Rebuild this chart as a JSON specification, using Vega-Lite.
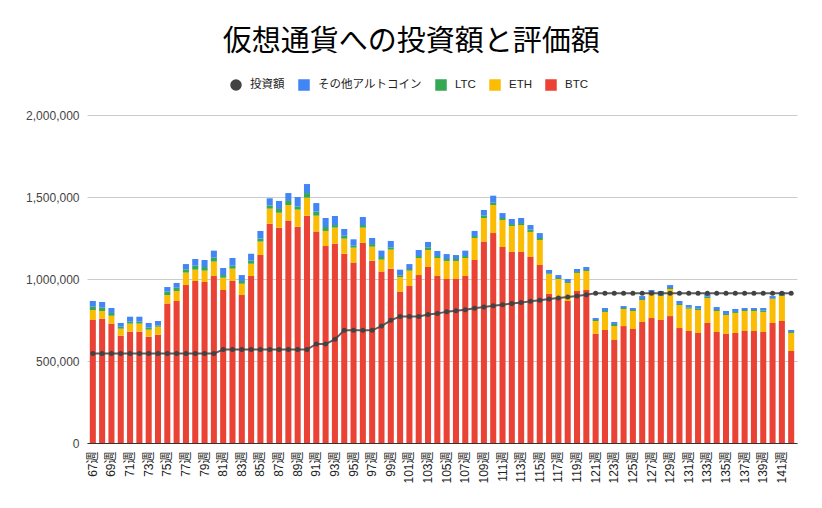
{
  "$schema": "https://vega.github.io/schema/vega-lite/v6.json",
  "width": 710,
  "height": 328,
  "autosize": "none",
  "padding": {"left": 87, "top": 115, "right": 25, "bottom": 65},
  "background": "white",
  "config": {
    "font": "Liberation Sans, Noto Sans CJK JP, sans-serif",
    "view": {"stroke": null}
  },
  "title": {
    "text": "仮想通貨への投資額と評価額",
    "font": "Noto Sans CJK JP",
    "fontSize": 29,
    "fontWeight": "normal",
    "color": "#000000",
    "anchor": "middle",
    "frame": "bounds",
    "offset": 22
  },
  "data": {
    "values": [
      {"w": "67週", "BTC": 750000, "ETH": 61000, "LTC": 20000, "その他アルトコイン": 35000, "inv": 545000},
      {"w": "68週", "BTC": 758000, "ETH": 47000, "LTC": 20000, "その他アルトコイン": 35000, "inv": 545000},
      {"w": "69週", "BTC": 728000, "ETH": 48000, "LTC": 17000, "その他アルトコイン": 30000, "inv": 545000},
      {"w": "70週", "BTC": 654000, "ETH": 43000, "LTC": 12000, "その他アルトコイン": 23000, "inv": 545000},
      {"w": "71週", "BTC": 679000, "ETH": 49000, "LTC": 12000, "その他アルトコイン": 30000, "inv": 545000},
      {"w": "72週", "BTC": 679000, "ETH": 49000, "LTC": 12000, "その他アルトコイン": 30000, "inv": 545000},
      {"w": "73週", "BTC": 648000, "ETH": 43000, "LTC": 12000, "その他アルトコイン": 29000, "inv": 545000},
      {"w": "74週", "BTC": 660000, "ETH": 49000, "LTC": 8000, "その他アルトコイン": 27000, "inv": 545000},
      {"w": "75週", "BTC": 850000, "ETH": 52000, "LTC": 21000, "その他アルトコイン": 28000, "inv": 545000},
      {"w": "76週", "BTC": 866000, "ETH": 61000, "LTC": 20000, "その他アルトコイン": 29000, "inv": 545000},
      {"w": "77週", "BTC": 963000, "ETH": 76000, "LTC": 20000, "その他アルトコイン": 32000, "inv": 545000},
      {"w": "78週", "BTC": 988000, "ETH": 69000, "LTC": 24000, "その他アルトコイン": 41000, "inv": 545000},
      {"w": "79週", "BTC": 982000, "ETH": 69000, "LTC": 22000, "その他アルトコイン": 43000, "inv": 545000},
      {"w": "80週", "BTC": 1018000, "ETH": 88000, "LTC": 24000, "その他アルトコイン": 43000, "inv": 545000},
      {"w": "81週", "BTC": 933000, "ETH": 75000, "LTC": 16000, "その他アルトコイン": 43000, "inv": 570000},
      {"w": "82週", "BTC": 988000, "ETH": 75000, "LTC": 18000, "その他アルトコイン": 47000, "inv": 570000},
      {"w": "83週", "BTC": 902000, "ETH": 69000, "LTC": 17000, "その他アルトコイン": 36000, "inv": 570000},
      {"w": "84週", "BTC": 1018000, "ETH": 75000, "LTC": 19000, "その他アルトコイン": 42000, "inv": 570000},
      {"w": "85週", "BTC": 1146000, "ETH": 82000, "LTC": 18000, "その他アルトコイン": 47000, "inv": 570000},
      {"w": "86週", "BTC": 1337000, "ETH": 92000, "LTC": 20000, "その他アルトコイン": 43000, "inv": 570000},
      {"w": "87週", "BTC": 1313000, "ETH": 91000, "LTC": 23000, "その他アルトコイン": 49000, "inv": 570000},
      {"w": "88週", "BTC": 1356000, "ETH": 95000, "LTC": 25000, "その他アルトコイン": 48000, "inv": 570000},
      {"w": "89週", "BTC": 1319000, "ETH": 104000, "LTC": 18000, "その他アルトコイン": 59000, "inv": 570000},
      {"w": "90週", "BTC": 1386000, "ETH": 110000, "LTC": 28000, "その他アルトコイン": 55000, "inv": 570000},
      {"w": "91週", "BTC": 1289000, "ETH": 97000, "LTC": 25000, "その他アルトコイン": 52000, "inv": 604000},
      {"w": "92週", "BTC": 1201000, "ETH": 92000, "LTC": 24000, "その他アルトコイン": 55000, "inv": 604000},
      {"w": "93週", "BTC": 1215000, "ETH": 98000, "LTC": 16000, "その他アルトコイン": 55000, "inv": 632000},
      {"w": "94週", "BTC": 1154000, "ETH": 92000, "LTC": 18000, "その他アルトコイン": 41000, "inv": 687000},
      {"w": "95週", "BTC": 1100000, "ETH": 91000, "LTC": 12000, "その他アルトコイン": 39000, "inv": 687000},
      {"w": "96週", "BTC": 1221000, "ETH": 92000, "LTC": 16000, "その他アルトコイン": 49000, "inv": 687000},
      {"w": "97週", "BTC": 1112000, "ETH": 85000, "LTC": 16000, "その他アルトコイン": 37000, "inv": 687000},
      {"w": "98週", "BTC": 1045000, "ETH": 73000, "LTC": 16000, "その他アルトコイン": 39000, "inv": 713000},
      {"w": "99週", "BTC": 1063000, "ETH": 116000, "LTC": 14000, "その他アルトコイン": 39000, "inv": 748000},
      {"w": "100週", "BTC": 921000, "ETH": 91000, "LTC": 10000, "その他アルトコイン": 35000, "inv": 772000},
      {"w": "101週", "BTC": 957000, "ETH": 94000, "LTC": 10000, "その他アルトコイン": 30000, "inv": 772000},
      {"w": "102週", "BTC": 1024000, "ETH": 104000, "LTC": 12000, "その他アルトコイン": 37000, "inv": 772000},
      {"w": "103週", "BTC": 1073000, "ETH": 104000, "LTC": 16000, "その他アルトコイン": 33000, "inv": 783000},
      {"w": "104週", "BTC": 1018000, "ETH": 110000, "LTC": 12000, "その他アルトコイン": 31000, "inv": 789000},
      {"w": "105週", "BTC": 1000000, "ETH": 110000, "LTC": 12000, "その他アルトコイン": 30000, "inv": 801000},
      {"w": "106週", "BTC": 1000000, "ETH": 110000, "LTC": 12000, "その他アルトコイン": 24000, "inv": 807000},
      {"w": "107週", "BTC": 1018000, "ETH": 110000, "LTC": 12000, "その他アルトコイン": 33000, "inv": 813000},
      {"w": "108週", "BTC": 1116000, "ETH": 134000, "LTC": 12000, "その他アルトコイン": 31000, "inv": 821000},
      {"w": "109週", "BTC": 1228000, "ETH": 144000, "LTC": 16000, "その他アルトコイン": 33000, "inv": 829000},
      {"w": "110週", "BTC": 1280000, "ETH": 171000, "LTC": 14000, "その他アルトコイン": 43000, "inv": 837000},
      {"w": "111週", "BTC": 1195000, "ETH": 165000, "LTC": 12000, "その他アルトコイン": 30000, "inv": 843000},
      {"w": "112週", "BTC": 1165000, "ETH": 158000, "LTC": 12000, "その他アルトコイン": 31000, "inv": 850000},
      {"w": "113週", "BTC": 1165000, "ETH": 164000, "LTC": 12000, "その他アルトコイン": 31000, "inv": 856000},
      {"w": "114週", "BTC": 1134000, "ETH": 153000, "LTC": 14000, "その他アルトコイン": 28000, "inv": 864000},
      {"w": "115週", "BTC": 1085000, "ETH": 153000, "LTC": 12000, "その他アルトコイン": 30000, "inv": 870000},
      {"w": "116週", "BTC": 909000, "ETH": 120000, "LTC": 6000, "その他アルトコイン": 20000, "inv": 878000},
      {"w": "117週", "BTC": 888000, "ETH": 112000, "LTC": 6000, "その他アルトコイン": 18000, "inv": 884000},
      {"w": "118週", "BTC": 866000, "ETH": 110000, "LTC": 6000, "その他アルトコイン": 18000, "inv": 890000},
      {"w": "119週", "BTC": 927000, "ETH": 110000, "LTC": 6000, "その他アルトコイン": 18000, "inv": 896000},
      {"w": "120週", "BTC": 933000, "ETH": 116000, "LTC": 6000, "その他アルトコイン": 18000, "inv": 904000},
      {"w": "121週", "BTC": 665000, "ETH": 79000, "LTC": 6000, "その他アルトコイン": 12000, "inv": 913000},
      {"w": "122週", "BTC": 689000, "ETH": 110000, "LTC": 6000, "その他アルトコイン": 18000, "inv": 913000},
      {"w": "123週", "BTC": 628000, "ETH": 85000, "LTC": 13000, "その他アルトコイン": 12000, "inv": 913000},
      {"w": "124週", "BTC": 713000, "ETH": 104000, "LTC": 6000, "その他アルトコイン": 12000, "inv": 913000},
      {"w": "125週", "BTC": 695000, "ETH": 110000, "LTC": 6000, "その他アルトコイン": 12000, "inv": 913000},
      {"w": "126週", "BTC": 738000, "ETH": 134000, "LTC": 6000, "その他アルトコイン": 18000, "inv": 913000},
      {"w": "127週", "BTC": 762000, "ETH": 147000, "LTC": 6000, "その他アルトコイン": 18000, "inv": 913000},
      {"w": "128週", "BTC": 750000, "ETH": 146000, "LTC": 6000, "その他アルトコイン": 25000, "inv": 913000},
      {"w": "129週", "BTC": 774000, "ETH": 165000, "LTC": 6000, "その他アルトコイン": 18000, "inv": 913000},
      {"w": "130週", "BTC": 701000, "ETH": 140000, "LTC": 7000, "その他アルトコイン": 18000, "inv": 913000},
      {"w": "131週", "BTC": 683000, "ETH": 136000, "LTC": 8000, "その他アルトコイン": 14000, "inv": 913000},
      {"w": "132週", "BTC": 671000, "ETH": 140000, "LTC": 8000, "その他アルトコイン": 16000, "inv": 913000},
      {"w": "133週", "BTC": 732000, "ETH": 152000, "LTC": 8000, "その他アルトコイン": 17000, "inv": 913000},
      {"w": "134週", "BTC": 677000, "ETH": 128000, "LTC": 6000, "その他アルトコイン": 18000, "inv": 913000},
      {"w": "135週", "BTC": 665000, "ETH": 115000, "LTC": 7000, "その他アルトコイン": 18000, "inv": 913000},
      {"w": "136週", "BTC": 671000, "ETH": 122000, "LTC": 6000, "その他アルトコイン": 18000, "inv": 913000},
      {"w": "137週", "BTC": 683000, "ETH": 122000, "LTC": 6000, "その他アルトコイン": 12000, "inv": 913000},
      {"w": "138週", "BTC": 683000, "ETH": 122000, "LTC": 6000, "その他アルトコイン": 12000, "inv": 913000},
      {"w": "139週", "BTC": 677000, "ETH": 122000, "LTC": 8000, "その他アルトコイン": 16000, "inv": 913000},
      {"w": "140週", "BTC": 732000, "ETH": 146000, "LTC": 4000, "その他アルトコイン": 14000, "inv": 913000},
      {"w": "141週", "BTC": 744000, "ETH": 152000, "LTC": 6000, "その他アルトコイン": 19000, "inv": 913000},
      {"w": "142週", "BTC": 561000, "ETH": 110000, "LTC": 6000, "その他アルトコイン": 12000, "inv": 913000}
    ]
  },
  "encoding": {
    "x": {
      "field": "w",
      "type": "ordinal",
      "sort": null,
      "scale": {"paddingInner": 0.35, "paddingOuter": 0.3},
      "axis": {
        "title": null,
        "labelAngle": -90,
        "labelFontSize": 12,
        "labelColor": "#222222",
        "labelPadding": 8,
        "ticks": false,
        "domain": true,
        "domainColor": "#333333",
        "domainWidth": 1,
        "grid": false,
        "values": ["67週","69週","71週","73週","75週","77週","79週","81週","83週","85週","87週","89週","91週","93週","95週","97週","99週","101週","103週","105週","107週","109週","111週","113週","115週","117週","119週","121週","123週","125週","127週","129週","131週","133週","135週","137週","139週","141週"]
      }
    }
  },
  "layer": [
    {
      "transform": [{"fold": ["BTC", "ETH", "LTC", "その他アルトコイン"], "as": ["series", "v"]}],
      "mark": {"type": "bar"},
      "encoding": {
        "y": {
          "field": "v",
          "type": "quantitative",
          "stack": "zero",
          "scale": {"domain": [0, 2000000]},
          "axis": {
            "title": null,
            "values": [0, 500000, 1000000, 1500000, 2000000],
            "format": ",d",
            "labelFontSize": 12,
            "labelColor": "#444444",
            "labelPadding": 8,
            "ticks": false,
            "domain": false,
            "grid": true,
            "gridColor": "#cccccc"
          }
        },
        "order": {"field": "series", "sort": "ascending"},
        "color": {
          "field": "series",
          "type": "nominal",
          "scale": {
            "domain": ["投資額", "その他アルトコイン", "LTC", "ETH", "BTC"],
            "range": ["#424242", "#4285f4", "#34a853", "#fbbc04", "#ea4335"]
          },
          "legend": {
            "title": null,
            "orient": "none",
            "legendX": 143,
            "legendY": -36,
            "direction": "horizontal",
            "symbolSize": 100,
            "labelFontSize": 11.5,
            "labelColor": "#222222",
            "columnPadding": 11,
            "labelOffset": 8,
            "padding": 0
          }
        }
      }
    },
    {
      "mark": {"type": "line", "strokeWidth": 2, "opacity": 0.85},
      "encoding": {
        "y": {"field": "inv", "type": "quantitative"},
        "color": {
          "datum": "投資額",
          "scale": {
            "domain": ["投資額", "その他アルトコイン", "LTC", "ETH", "BTC"],
            "range": ["#424242", "#4285f4", "#34a853", "#fbbc04", "#ea4335"]
          },
          "legend": null
        }
      }
    },
    {
      "mark": {"type": "point", "filled": true, "size": 25, "opacity": 1},
      "encoding": {
        "y": {"field": "inv", "type": "quantitative"},
        "color": {
          "datum": "投資額",
          "scale": {
            "domain": ["投資額", "その他アルトコイン", "LTC", "ETH", "BTC"],
            "range": ["#424242", "#4285f4", "#34a853", "#fbbc04", "#ea4335"]
          },
          "legend": null
        },
        "shape": {
          "datum": "投資額",
          "scale": {
            "domain": ["投資額", "その他アルトコイン", "LTC", "ETH", "BTC"],
            "range": ["circle", "square", "square", "square", "square"]
          },
          "legend": {
            "title": null,
            "orient": "none",
            "legendX": 143,
            "legendY": -36,
            "direction": "horizontal",
            "symbolSize": 100,
            "labelFontSize": 11.5,
            "labelColor": "#222222",
            "columnPadding": 11,
            "labelOffset": 8,
            "padding": 0
          }
        }
      }
    }
  ]
}
